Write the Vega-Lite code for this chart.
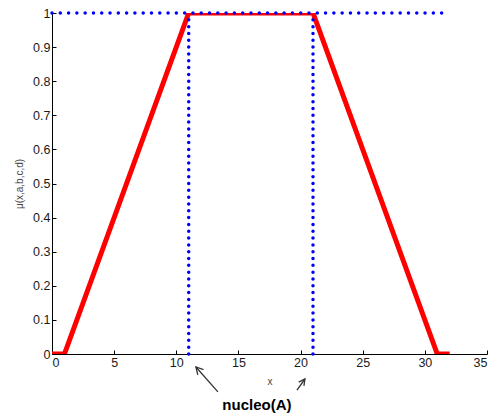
{
  "$schema": "https://vega.github.io/schema/vega-lite/v6.json",
  "width": 435,
  "height": 341,
  "autosize": {"type": "none"},
  "padding": {"left": 52, "top": 13, "right": 6, "bottom": 63},
  "background": "white",
  "config": {
    "view": {"stroke": null},
    "font": "Liberation Sans",
    "axis": {
      "grid": false,
      "domainColor": "#000000",
      "domainWidth": 1,
      "tickColor": "#000000",
      "tickSize": -4,
      "labelOverlap": false,
      "labelFont": "Liberation Sans",
      "labelFontSize": 12.5,
      "labelColor": "#1a1a1a",
      "titleFont": "Liberation Sans",
      "titleFontWeight": "normal",
      "titleFontSize": 10,
      "titleColor": "#444444"
    }
  },
  "datasets": {
    "mf": [
      {"x": 0, "mu": 0},
      {"x": 1, "mu": 0},
      {"x": 11, "mu": 1},
      {"x": 21, "mu": 1},
      {"x": 31, "mu": 0},
      {"x": 32, "mu": 0}
    ],
    "vlines": [
      {"x": 11, "y0": 0, "y1": 1},
      {"x": 21, "y0": 0, "y1": 1}
    ],
    "hline": [
      {"x0": 0, "x1": 32, "y": 1}
    ],
    "arrows": [
      {"arrow": "a1s", "o": 1, "x": 13.35, "y": -0.111},
      {"arrow": "a1s", "o": 2, "x": 11.58, "y": -0.038},
      {"arrow": "a1h", "o": 1, "x": 11.73, "y": -0.061},
      {"arrow": "a1h", "o": 2, "x": 11.58, "y": -0.038},
      {"arrow": "a1h", "o": 3, "x": 12.19, "y": -0.046},
      {"arrow": "a2s", "o": 1, "x": 19.71, "y": -0.1056},
      {"arrow": "a2s", "o": 2, "x": 20.35, "y": -0.0733},
      {"arrow": "a2h", "o": 1, "x": 19.85, "y": -0.0824},
      {"arrow": "a2h", "o": 2, "x": 20.35, "y": -0.0733},
      {"arrow": "a2h", "o": 3, "x": 20.27, "y": -0.0935}
    ],
    "labels": [
      {"x": 16.49, "y": -0.1496, "text": "nucleo(A)"}
    ]
  },
  "layer": [
    {
      "data": {"name": "mf"},
      "mark": {"type": "line", "color": "#ff0000", "strokeWidth": 5, "strokeJoin": "miter", "clip": true},
      "encoding": {
        "x": {
          "field": "x", "type": "quantitative",
          "scale": {"domain": [0, 35], "nice": false},
          "axis": {"values": [0, 5, 10, 15, 20, 25, 30, 35], "title": "x", "titlePadding": 8, "labelPadding": 6}
        },
        "y": {
          "field": "mu", "type": "quantitative",
          "scale": {"domain": [0, 1], "nice": false},
          "axis": {"values": [0, 0.1, 0.2, 0.3, 0.4, 0.5, 0.6, 0.7, 0.8, 0.9, 1], "format": "~g", "title": "μ(x,a,b,c,d)", "titlePadding": 8, "labelPadding": 6}
        }
      }
    },
    {
      "data": {"name": "vlines"},
      "mark": {"type": "rule", "color": "#0000ff", "strokeWidth": 3.5, "strokeCap": "round", "strokeDash": [0, 6.82]},
      "encoding": {
        "x": {"field": "x", "type": "quantitative", "axis": {"values": [0, 5, 10, 15, 20, 25, 30, 35], "title": "x", "titlePadding": 8, "labelPadding": 6}},
        "y": {"field": "y0", "type": "quantitative", "axis": {"values": [0, 0.1, 0.2, 0.3, 0.4, 0.5, 0.6, 0.7, 0.8, 0.9, 1], "format": "~g", "title": "μ(x,a,b,c,d)", "titlePadding": 8, "labelPadding": 6}},
        "y2": {"field": "y1"}
      }
    },
    {
      "data": {"name": "hline"},
      "mark": {"type": "rule", "color": "#0000ff", "strokeWidth": 3.5, "strokeCap": "round", "strokeDash": [0, 8.29]},
      "encoding": {
        "x": {"field": "x0", "type": "quantitative", "axis": {"values": [0, 5, 10, 15, 20, 25, 30, 35], "title": "x", "titlePadding": 8, "labelPadding": 6}},
        "x2": {"field": "x1"},
        "y": {"field": "y", "type": "quantitative", "axis": {"values": [0, 0.1, 0.2, 0.3, 0.4, 0.5, 0.6, 0.7, 0.8, 0.9, 1], "format": "~g", "title": "μ(x,a,b,c,d)", "titlePadding": 8, "labelPadding": 6}}
      }
    },
    {
      "data": {"name": "arrows"},
      "mark": {"type": "line", "color": "#333333", "strokeWidth": 1.3, "clip": false},
      "encoding": {
        "x": {"field": "x", "type": "quantitative", "axis": {"values": [0, 5, 10, 15, 20, 25, 30, 35], "title": "x", "titlePadding": 8, "labelPadding": 6}},
        "y": {"field": "y", "type": "quantitative", "axis": {"values": [0, 0.1, 0.2, 0.3, 0.4, 0.5, 0.6, 0.7, 0.8, 0.9, 1], "format": "~g", "title": "μ(x,a,b,c,d)", "titlePadding": 8, "labelPadding": 6}},
        "detail": {"field": "arrow"},
        "order": {"field": "o"}
      }
    },
    {
      "data": {"name": "labels"},
      "mark": {"type": "text", "font": "Liberation Sans", "fontSize": 15, "fontWeight": "bold", "color": "#000000", "align": "center", "baseline": "middle", "clip": false},
      "encoding": {
        "x": {"field": "x", "type": "quantitative", "axis": {"values": [0, 5, 10, 15, 20, 25, 30, 35], "title": "x", "titlePadding": 8, "labelPadding": 6}},
        "y": {"field": "y", "type": "quantitative", "axis": {"values": [0, 0.1, 0.2, 0.3, 0.4, 0.5, 0.6, 0.7, 0.8, 0.9, 1], "format": "~g", "title": "μ(x,a,b,c,d)", "titlePadding": 8, "labelPadding": 6}},
        "text": {"field": "text"}
      }
    }
  ]
}
